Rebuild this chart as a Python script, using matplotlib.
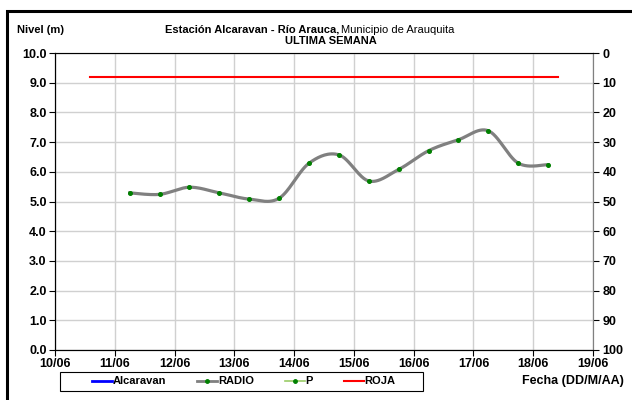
import numpy as np
import matplotlib.pyplot as plt
from matplotlib.lines import Line2D
from matplotlib.patches import Rectangle

plt.rcParams['font.family'] = ['Liberation Sans', 'DejaVu Sans']

# lecturas cada 12 horas (dia del mes, fraccion = hora)
dias = [11.25, 11.75, 12.25, 12.75, 13.25, 13.75, 14.25, 14.75,
        15.25, 15.75, 16.25, 16.75, 17.25, 17.75, 18.25]
nivel = [5.29, 5.24, 5.48, 5.29, 5.08, 5.11, 6.29, 6.57,
         5.69, 6.08, 6.71, 7.08, 7.38, 6.29, 6.24]

# alerta roja
roja_x = [10.58, 18.42]
roja_y = [9.2, 9.2]

fechas = ['10/06', '11/06', '12/06', '13/06', '14/06', '15/06',
          '16/06', '17/06', '18/06', '19/06']


def suavizar(x, y, n=30):
    # curva suavizada tipo Excel (bezier con tangentes de Catmull-Rom)
    x = np.asarray(x, float)
    y = np.asarray(y, float)
    px = np.concatenate([[x[0]], x, [x[-1]]])
    py = np.concatenate([[y[0]], y, [y[-1]]])
    xs, ys = [], []
    t = np.linspace(0, 1, n)
    for i in range(1, len(px) - 2):
        p0 = np.array([px[i], py[i]])
        p3 = np.array([px[i + 1], py[i + 1]])
        p1 = p0 + (np.array([px[i + 1], py[i + 1]]) - np.array([px[i - 1], py[i - 1]])) / 6
        p2 = p3 - (np.array([px[i + 2], py[i + 2]]) - np.array([px[i], py[i]])) / 6
        b = ((1 - t) ** 3)[:, None] * p0 + (3 * (1 - t) ** 2 * t)[:, None] * p1 \
            + (3 * (1 - t) * t ** 2)[:, None] * p2 + (t ** 3)[:, None] * p3
        xs.extend(b[:, 0])
        ys.extend(b[:, 1])
    return xs, ys


fig = plt.figure(figsize=(6.32, 4.0), dpi=100)
ax = fig.add_axes([55 / 632, 50 / 400, 538 / 632, 297 / 400])

ax.plot(roja_x, roja_y, color='#ff0000', lw=1.5, zorder=3)
sx, sy = suavizar(dias, nivel)
ax.plot(sx, sy, color='#808080', lw=2.3, zorder=4)
ax.plot(dias, nivel, 'o', color='#008000', ms=2.6, zorder=5)

ax.set_xlim(10, 19)
ax.set_ylim(0, 10)
ax.set_xticks(np.arange(10, 20))
ax.set_xticklabels(fechas)
ax.set_yticks(np.arange(0, 10.5, 1))
ax.set_yticklabels(['%.1f' % v for v in np.arange(0, 10.5, 1)])
ax.grid(True, color='#d0d0d0', lw=1)
ax.set_axisbelow(True)
for lbl in ax.get_xticklabels() + ax.get_yticklabels():
    lbl.set_fontweight('bold')
    lbl.set_fontsize(9)
ax.tick_params(axis='both', length=4, width=0.8, pad=2)
ax.spines['left'].set_color('black')
ax.spines['bottom'].set_color('black')
ax.spines['top'].set_color('#808080')
ax.spines['right'].set_color('#808080')

ax2 = ax.twinx()
ax2.set_ylim(100, 0)
ax2.set_yticks(np.arange(0, 101, 10))
ax2.tick_params(axis='y', length=4, width=0.8, pad=3, labelsize=9)
for lbl in ax2.get_yticklabels():
    lbl.set_fontweight('bold')
ax2.spines['right'].set_color('#808080')

fig.text(17 / 632, 1 - 30 / 400, 'Nivel (m)', fontsize=8, fontweight='bold', va='center')
fig.text(339 / 632, 1 - 30 / 400, 'Estación Alcaravan - Río Arauca,', fontsize=8,
         fontweight='bold', ha='right', va='center')
fig.text(341 / 632, 1 - 30 / 400, 'Municipio de Arauquita', fontsize=8, ha='left', va='center')
fig.text(331 / 632, 1 - 41 / 400, 'ULTIMA SEMANA', fontsize=8, fontweight='bold',
         ha='center', va='center')
fig.text(624 / 632, 1 - 381 / 400, 'Fecha (DD/M/AA)', fontsize=9, fontweight='bold',
         ha='right', va='center')

# leyenda: marco propio y entradas sin borde
fig.patches.append(Rectangle((60 / 632, 1 - 391 / 400), 363 / 632, 19 / 400,
                             transform=fig.transFigure, fill=False,
                             edgecolor='black', lw=0.8))
handles = [
    Line2D([], [], color='#0000ff', lw=2),
    Line2D([], [], color='#808080', lw=2, marker='o', ms=2.5, mfc='#008000', mec='#008000'),
    Line2D([], [], color='#99cc66', lw=1.2, marker='o', ms=2.5, mfc='#008000', mec='#008000'),
    Line2D([], [], color='#ff0000', lw=1.5),
]
fig.legend(handles, ['Alcaravan', 'RADIO', 'P', 'ROJA'], ncol=4,
           loc='center', bbox_to_anchor=(244 / 632, 1 - 381.5 / 400),
           prop={'weight': 'bold', 'size': 8}, frameon=False,
           handlelength=1.8, handletextpad=0.05, columnspacing=2.8)

# marco exterior
fig.patches.append(Rectangle((7 / 632, -0.1), 1.2, 1.1 - 11 / 400, transform=fig.transFigure,
                             fill=False, edgecolor='black', lw=2.2))

fig.savefig('out.png', dpi=100)
